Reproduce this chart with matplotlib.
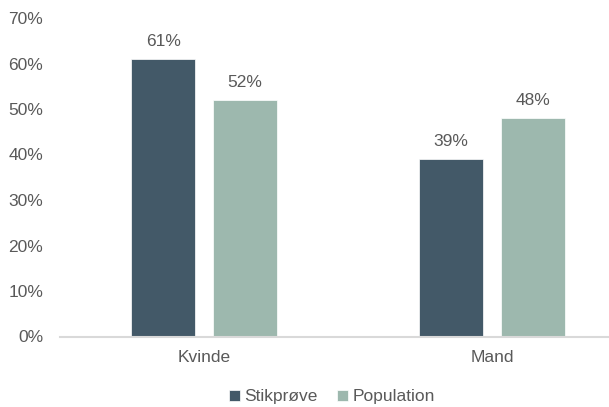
import matplotlib.pyplot as plt
import numpy as np

categories = ["Kvinde", "Mand"]
stikproeve = [61, 39]
population = [52, 48]
series_names = ["Stikprøve", "Population"]

dark = "#435968"
light = "#9db8ae"
grey = "#595959"
fs = 12.5

plt.rcParams['font.family'] = ['Liberation Sans', 'DejaVu Sans']

fig = plt.figure(figsize=(6.09, 4.07), dpi=100)
ax = fig.add_axes([60 / 609, 70.5 / 407, 576 / 609, 318.5 / 407])

x = np.arange(len(categories))
w = 0.222
off = 0.142
b1 = ax.bar(x - off, stikproeve, w, color=dark, edgecolor="white",
            linewidth=0.5, label=series_names[0])
b2 = ax.bar(x + off, population, w, color=light, edgecolor="white",
            linewidth=0.5, label=series_names[1])

for bars, vals in ((b1, stikproeve), (b2, population)):
    for rect, v in zip(bars, vals):
        ax.text(rect.get_x() + rect.get_width() / 2, v + 2.2, f"{v}%",
                ha="center", va="bottom", fontsize=fs, color=grey)

ax.set_xlim(-0.5, 1.5)
ax.set_ylim(0, 70)
ax.set_yticks(range(0, 71, 10))
ax.set_yticklabels([f"{t}%" for t in range(0, 71, 10)])
ax.set_xticks(x)
ax.set_xticklabels(categories)
ax.tick_params(axis="both", length=0, labelsize=fs, labelcolor=grey)
ax.tick_params(axis="y", pad=12)
ax.tick_params(axis="x", pad=10)

for s in ("top", "right", "left"):
    ax.spines[s].set_visible(False)
ax.spines["bottom"].set_color("#d9d9d9")
ax.spines["bottom"].set_linewidth(1.5)

fig.legend(loc="center", bbox_to_anchor=(332 / 609, 1 - 397 / 407), ncol=2,
           frameon=False, fontsize=fs, labelcolor=grey, handlelength=0.65,
           handleheight=0.65, handletextpad=0.25, columnspacing=1.1)

fig.savefig("out.png", dpi=100)
